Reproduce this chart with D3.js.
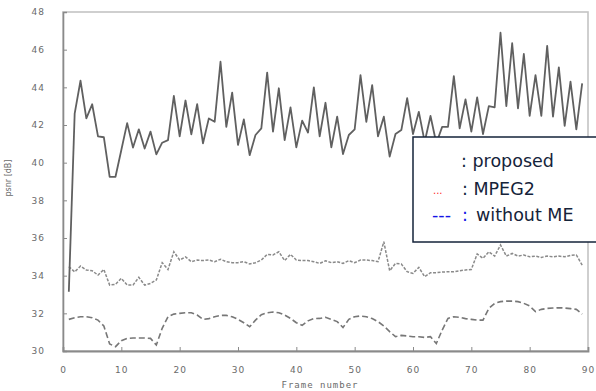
<!DOCTYPE html>
<html>
<head>
<meta charset="utf-8">
<script src="https://cdn.jsdelivr.net/npm/d3@7"></script>
<style>
  body { margin: 0; background: #fff; }
  svg { display: block; }
</style>
</head>
<body>
<script>
// frame index 1..89
const frames = d3.range(1, 90);

const proposed = [
  33.15, 42.6, 44.35, 42.35, 43.1, 41.4, 41.35, 39.25, 39.25, 40.67,
  42.1, 40.8, 41.77, 40.75, 41.65, 40.44, 41.06, 41.2, 43.54, 41.4,
  43.3, 41.5, 43.11, 41.03, 42.35, 42.17, 45.36, 41.9, 43.72, 40.94,
  42.3, 40.4, 41.47, 41.82, 44.78, 41.65, 43.95, 41.2, 42.94, 40.81,
  42.23, 41.6, 44.0, 41.4, 43.18, 40.81, 42.44, 40.46, 41.47, 41.77,
  44.65, 42.17, 44.12, 41.4, 42.44, 40.32, 41.52, 41.73, 43.42, 41.52,
  42.7, 41.1, 42.48, 41.03, 41.9, 41.9, 44.6, 41.82, 43.36, 41.65,
  43.47, 41.52, 43.0, 42.94, 46.9, 43.0, 46.34, 42.88, 45.77, 42.48,
  44.65, 42.48, 46.2, 42.44, 45.06, 41.95, 44.3, 41.77, 44.21
];

const mpeg2 = [
  34.48, 34.2, 34.51, 34.3, 34.26, 34.03, 34.33, 33.5, 33.54, 33.86,
  33.5, 33.5, 33.91, 33.5, 33.59, 33.77, 34.69, 34.33, 35.27, 34.83,
  35.0, 34.74, 34.83, 34.8, 34.83, 34.74, 34.87, 34.74, 34.69, 34.69,
  34.74, 34.62, 34.69, 34.83, 35.13, 35.1, 35.27, 34.8, 35.13, 34.83,
  34.8, 34.8, 34.74, 34.65, 34.79, 34.69, 34.74, 34.65, 34.8, 34.69,
  34.83, 34.83, 34.8, 34.74, 35.8, 34.26, 34.65, 34.62, 34.21, 34.12,
  34.44, 33.95, 34.16, 34.16, 34.19, 34.21, 34.21, 34.26, 34.3, 34.33,
  35.15, 34.92, 35.27, 35.04, 35.63, 35.04, 35.18, 35.04, 35.1, 35.0,
  35.04, 34.97, 35.04, 35.0, 35.04, 35.0, 35.08, 35.1, 34.56
];

const withoutME = [
  31.68, 31.77, 31.82, 31.82, 31.77, 31.64, 31.33, 30.37, 30.23, 30.55,
  30.67, 30.69, 30.69, 30.69, 30.67, 30.32, 31.2, 31.82, 31.96, 32.0,
  32.03, 32.03, 31.91, 31.68, 31.72, 31.82, 31.89, 31.89, 31.82, 31.68,
  31.5, 31.29, 31.64, 31.93, 32.03, 32.07, 32.03, 31.91, 31.73, 31.5,
  31.36, 31.6, 31.72, 31.73, 31.79, 31.68, 31.56, 31.25, 31.68, 31.82,
  31.86, 31.82, 31.72, 31.56, 31.33, 31.03, 30.76, 30.83, 30.8, 30.76,
  30.76, 30.72, 30.76, 30.4, 31.11, 31.73, 31.82, 31.79, 31.72, 31.68,
  31.64, 31.64, 32.26, 32.53, 32.62, 32.65, 32.65, 32.62, 32.53, 32.39,
  32.09, 32.21, 32.26, 32.28, 32.3, 32.28, 32.25, 32.21, 31.96
];

const xTicks = [0, 10, 20, 30, 40, 50, 60, 70, 80, 90];
const yTicks = [30, 32, 34, 36, 38, 40, 42, 44, 46, 48];

const legendLabels = [": proposed", ": MPEG2", "without ME"];

const width = 596, height = 391;
const margin = { top: 12, right: 8, bottom: 40, left: 63 };

const x = d3.scaleLinear().domain([0, 90]).range([margin.left, width - margin.right]);
const y = d3.scaleLinear().domain([30, 48]).range([height - margin.bottom, margin.top]);

const svg = d3.select("body").append("svg")
  .attr("width", width)
  .attr("height", height)
  .attr("viewBox", [0, 0, width, height]);

svg.append("defs").append("filter")
  .attr("id", "soft")
  .append("feGaussianBlur")
  .attr("stdDeviation", 0.5);

// frame (top / right)
svg.append("rect")
  .attr("x", x(0)).attr("y", y(48))
  .attr("width", x(90) - x(0)).attr("height", y(30) - y(48))
  .attr("fill", "none")
  .attr("stroke", "#c4c4c4")
  .attr("stroke-width", 1.6);

const tickFont = "DejaVu Sans, sans-serif";

// y axis
svg.append("g")
  .attr("transform", `translate(${x(0)},0)`)
  .call(d3.axisLeft(y).tickValues(yTicks).tickSize(-4).tickPadding(18).tickFormat(d3.format("d")))
  .call(g => g.select(".domain").attr("stroke", "#8a8a8a").attr("stroke-width", 1.6))
  .call(g => g.selectAll(".tick line").attr("stroke", "#8a8a8a"))
  .call(g => g.selectAll(".tick text")
    .attr("fill", "#6a6a6a")
    .style("font-family", tickFont)
    .style("font-size", "9px")
    .style("letter-spacing", "1px"));

// x axis
svg.append("g")
  .attr("transform", `translate(0,${y(30)})`)
  .call(d3.axisBottom(x).tickValues(xTicks).tickSize(-4).tickPadding(16).tickFormat(d3.format("d")))
  .call(g => g.select(".domain").attr("stroke", "#8a8a8a").attr("stroke-width", 1.8))
  .call(g => g.selectAll(".tick line").attr("stroke", "#8a8a8a"))
  .call(g => g.selectAll(".tick text")
    .attr("fill", "#6a6a6a")
    .style("font-family", tickFont)
    .style("font-size", "9px")
    .style("letter-spacing", "1px"));

// axis titles
svg.append("text")
  .attr("transform", `translate(11,${178}) rotate(-90)`)
  .attr("text-anchor", "middle")
  .attr("fill", "#6a6a6a")
  .style("font-family", tickFont)
  .style("font-size", "8px")
  .text("psnr [dB]");

svg.append("text")
  .attr("x", 320).attr("y", 388)
  .attr("text-anchor", "middle")
  .attr("fill", "#6a6a6a")
  .style("font-family", "DejaVu Sans Mono, monospace")
  .style("font-size", "9px")
  .style("letter-spacing", "1px")
  .text("Frame number");

// series
const line = vals => d3.line()
  .x((d, i) => x(frames[i]))
  .y(d => y(d))(vals);

svg.append("path")
  .attr("d", line(withoutME))
  .attr("fill", "none")
  .attr("stroke", "#777")
  .attr("stroke-width", 1.6)
  .attr("stroke-dasharray", "6,3")
  .attr("filter", "url(#soft)");

svg.append("path")
  .attr("d", line(mpeg2))
  .attr("fill", "none")
  .attr("stroke", "#8a8a8a")
  .attr("stroke-width", 1.5)
  .attr("stroke-dasharray", "3,1.5")
  .attr("filter", "url(#soft)");

svg.append("path")
  .attr("d", line(proposed))
  .attr("fill", "none")
  .attr("stroke", "#606060")
  .attr("stroke-width", 1.8)
  .attr("stroke-linejoin", "round")
  .attr("filter", "url(#soft)");

// legend
const lg = svg.append("g");
lg.append("rect")
  .attr("x", 413).attr("y", 137)
  .attr("width", 200).attr("height", 105)
  .attr("fill", "#fff")
  .attr("stroke", "#15233a")
  .attr("stroke-width", 1.5);

const rowY = [167, 195, 221];
const rowX = [461, 462, 476];
lg.selectAll("text.lab")
  .data(legendLabels)
  .join("text")
  .attr("class", "lab")
  .attr("x", (d, i) => rowX[i])
  .attr("y", (d, i) => rowY[i])
  .attr("fill", "#15233a")
  .style("font-family", "DejaVu Sans, sans-serif")
  .style("font-size", "17.5px")
  .text(d => d);

lg.append("text")
  .attr("x", 433).attr("y", rowY[1] - 1)
  .attr("fill", "#ff2a2a")
  .style("font-family", "DejaVu Sans, sans-serif")
  .style("font-size", "10px")
  .text("...");

lg.append("text")
  .attr("x", 432).attr("y", rowY[2])
  .attr("fill", "#1414e6")
  .style("font-family", "DejaVu Sans, sans-serif")
  .style("font-size", "17.5px")
  .text("---");

lg.append("text")
  .attr("x", 462).attr("y", rowY[2])
  .attr("fill", "#1414e6")
  .style("font-family", "DejaVu Sans, sans-serif")
  .style("font-size", "17.5px")
  .text(":");
</script>
</body>
</html>
